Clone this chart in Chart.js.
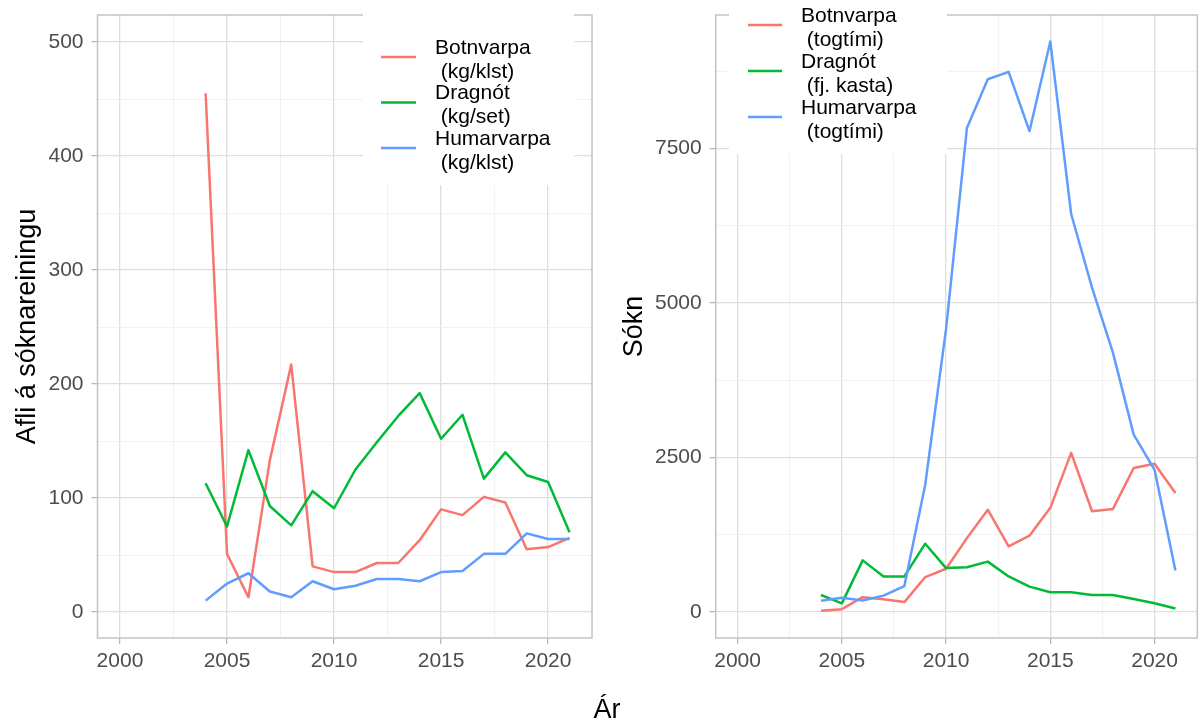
<!DOCTYPE html>
<html>
<head>
<meta charset="utf-8">
<script src="https://cdn.jsdelivr.net/npm/chart.js@4.4.1/dist/chart.umd.min.js"></script>
<style>
  body { margin: 0; background: #fff; }
  #wrap { position: relative; width: 1200px; height: 725px; }
  .panel { position: absolute; top: 0; width: 600px; height: 725px; }
  #xTitle {
    position: absolute; left: 557px; top: 696px; width: 100px;
    text-align: center; font: 27px "Liberation Sans", Arial, sans-serif;
    line-height: 27px; color: #000;
  }
</style>
</head>
<body>
<div id="wrap">
  <div class="panel" style="left:0"><canvas id="afliChart"></canvas></div>
  <div class="panel" style="left:600px"><canvas id="soknChart"></canvas></div>
  <div id="xTitle">Ár</div>
</div>
<script>
// data
var years = [2004, 2005, 2006, 2007, 2008, 2009, 2010, 2011, 2012, 2013, 2014, 2015, 2016, 2017, 2018, 2019, 2020, 2021];
var seriesNames = ['Botnvarpa', 'Dragnót', 'Humarvarpa'];
var seriesColors = ['#F8766D', '#00BA38', '#619CFF'];
var afliUnits = ['(kg/klst)', '(kg/set)', '(kg/klst)'];
var soknUnits = ['(togtími)', '(fj. kasta)', '(togtími)'];

var botnvarpaAfli = [455, 51, 13, 133, 217, 40, 35, 35, 43, 43, 63, 90, 85, 101, 96, 55, 57, 65];
var dragnotAfli = [113, 75, 142, 93, 76, 106, 91, 125, 149, 172, 192, 152, 173, 117, 140, 120, 114, 70];
var humarvarpaAfli = [10, 25, 34, 18, 13, 27, 20, 23, 29, 29, 27, 35, 36, 51, 51, 69, 64, 64];

var botnvarpaSokn = [20, 45, 240, 205, 160, 565, 700, 1195, 1655, 1060, 1235, 1685, 2575, 1630, 1665, 2330, 2400, 1925];
var dragnotSokn = [275, 140, 835, 575, 575, 1105, 710, 725, 815, 575, 410, 320, 320, 275, 275, 210, 140, 55];
var humarvarpaSokn = [180, 230, 185, 265, 420, 2060, 4580, 7830, 8620, 8740, 7780, 9230, 6440, 5250, 4200, 2870, 2300, 670];

var xMajor = [2000, 2005, 2010, 2015, 2020];
var xMinor = [2002.5, 2007.5, 2012.5, 2017.5];
var afliMajor = [0, 100, 200, 300, 400, 500];
var afliMinor = [50, 150, 250, 350, 450];
var soknMajor = [0, 2500, 5000, 7500];
var soknMinor = [1250, 3750, 6250, 8750];

Chart.defaults.font.family = '"Liberation Sans", Arial, sans-serif';

// panel border + legend drawn inside the top of the panel
var panelLegend = {
    id: 'panelLegend',
    beforeDatasetsDraw: function (chart, args, opts) {
        var ctx = chart.ctx;
        var a = chart.chartArea;
        ctx.save();
        ctx.strokeStyle = '#c4c4c4';
        ctx.lineWidth = 1.5;
        ctx.strokeRect(a.left, a.top, a.right - a.left, a.bottom - a.top);
        ctx.fillStyle = '#fff';
        ctx.fillRect(opts.box[0], opts.box[1], opts.box[2], opts.box[3]);
        ctx.font = '21px "Liberation Sans", Arial, sans-serif';
        ctx.textAlign = 'left';
        ctx.textBaseline = 'alphabetic';
        chart.data.datasets.forEach(function (ds, i) {
            var ky = opts.keyY + i * opts.step;
            ctx.strokeStyle = ds.borderColor;
            ctx.lineWidth = 2.5;
            ctx.beginPath();
            ctx.moveTo(opts.keyX[0], ky);
            ctx.lineTo(opts.keyX[1], ky);
            ctx.stroke();
            ctx.fillStyle = '#000';
            var lines = ds.label.split('\n');
            ctx.fillText(lines[0], opts.textX, ky - 3.5);
            ctx.fillText(lines[1], opts.textX, ky + 20.5);
        });
        ctx.restore();
    }
};

function isIn(list, v) {
    for (var i = 0; i < list.length; i++) {
        if (Math.abs(list[i] - v) < 1e-6) return true;
    }
    return false;
}

function gridOpts(major) {
    return {
        color: function (c) { return isIn(major, c.tick.value) ? '#dedede' : '#efefef'; },
        lineWidth: function (c) { return isIn(major, c.tick.value) ? 1.3 : 0.8; },
        tickColor: function (c) { return isIn(major, c.tick.value) ? '#b3b3b3' : 'rgba(0,0,0,0)'; },
        tickWidth: 1.2,
        tickLength: 6
    };
}

function makeChart(id, seriesList, units, yMin, yMax, yMajor, yMinor, yTitle, yWidth, titlePad, padRight, legendOpts) {
    var datasets = [];
    for (let i = 0; i < seriesList.length; i++) {
        datasets.push({
            label: seriesNames[i] + '\n ' + units[i],
            data: years.map(function (yr, j) { return {x: yr, y: seriesList[i][j]}; }),
            borderColor: seriesColors[i],
            backgroundColor: seriesColors[i],
            borderWidth: 2.5,
            borderJoinStyle: 'round',
            pointRadius: 0,
            tension: 0,
            order: seriesList.length - i
        });
    }
    var xGrid = xMajor.concat(xMinor).sort();
    var yGrid = yMajor.concat(yMinor).sort(function (a, b) { return a - b; });

    return new Chart(document.getElementById(id), {
        type: 'line',
        data: {datasets: datasets},
        options: {
            responsive: true,
            maintainAspectRatio: false,
            animation: false,
            layout: {padding: {top: 15, right: padRight, bottom: 0, left: 0}},
            plugins: {
                legend: {display: false},
                tooltip: {enabled: false},
                panelLegend: legendOpts
            },
            scales: {
                x: {
                    type: 'linear',
                    min: 1998.95,
                    max: 2022.05,
                    afterBuildTicks: function (s) { s.ticks = xGrid.map(function (v) { return {value: v}; }); },
                    afterFit: function (s) {
                        s.height = 87;
                        s.paddingLeft = 0;
                        s.paddingRight = 0;
                    },
                    grid: gridOpts(xMajor),
                    border: {display: false},
                    ticks: {
                        autoSkip: false, maxRotation: 0, padding: 5,
                        color: '#4d4d4d', font: {size: 21},
                        callback: function (v) { return isIn(xMajor, v) ? String(v) : ''; }
                    }
                },
                y: {
                    type: 'linear',
                    min: yMin,
                    max: yMax,
                    afterBuildTicks: function (s) { s.ticks = yGrid.map(function (v) { return {value: v}; }); },
                    afterFit: function (s) {
                        s.width = yWidth;
                        s.paddingTop = 0;
                        s.paddingBottom = 0;
                    },
                    grid: gridOpts(yMajor),
                    border: {display: false},
                    title: {
                        display: true, text: yTitle, color: '#000',
                        font: {size: 27}, padding: {top: titlePad, bottom: 0}
                    },
                    ticks: {
                        autoSkip: false, padding: 8,
                        color: '#4d4d4d', font: {size: 21},
                        callback: function (v) { return isIn(yMajor, v) ? String(v) : ''; }
                    }
                }
            }
        },
        plugins: [panelLegend]
    });
}

makeChart('afliChart', [botnvarpaAfli, dragnotAfli, humarvarpaAfli], afliUnits,
    -22.8, 523.7, afliMajor, afliMinor, 'Afli á sóknareiningu', 97.5, 11, 8,
    {box: [363, 0, 211, 185], keyX: [381, 416], keyY: 57, step: 45.5, textX: 435});

makeChart('soknChart', [botnvarpaSokn, dragnotSokn, humarvarpaSokn], soknUnits,
    -421, 9660, soknMajor, soknMinor, 'Sókn', 115.7, 18, 2.7,
    {box: [129, 0, 218, 154], keyX: [148, 182], keyY: 25, step: 46, textX: 201});
</script>
</body>
</html>
